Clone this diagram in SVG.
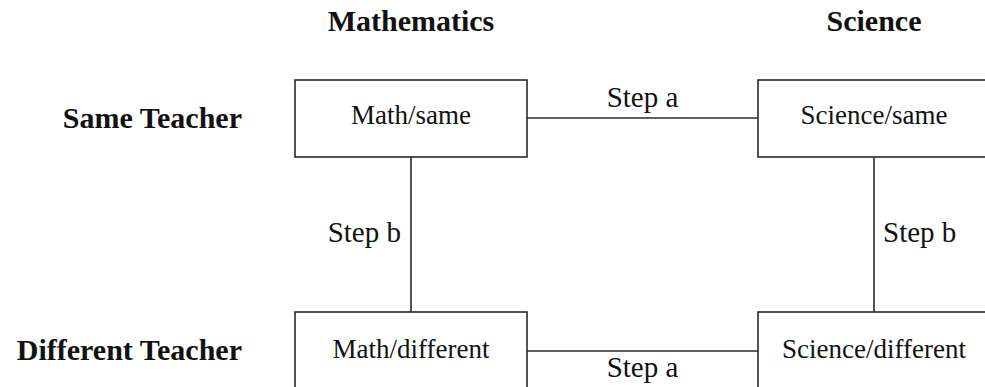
<svg xmlns="http://www.w3.org/2000/svg" width="985" height="387" viewBox="0 0 985 387">
<style>
.box{fill:#fff;stroke:#2a2a2a;stroke-width:1.6}
.edge{stroke:#2a2a2a;stroke-width:1.6;fill:none}
.nt{font-family:'Liberation Serif',serif;font-size:27px;fill:#111;text-anchor:middle}
.st{font-family:'Liberation Serif',serif;font-size:29px;fill:#111}
.hd{font-family:'Liberation Serif',serif;font-size:30px;font-weight:bold;fill:#111}
</style>
<rect width="985" height="387" fill="#fff"/>
<g id="headers">
<text class="hd" x="411" y="31" text-anchor="middle">Mathematics</text>
<text class="hd" x="874" y="31" text-anchor="middle">Science</text>
<text class="hd" x="242" y="128" text-anchor="end">Same Teacher</text>
<text class="hd" x="242" y="360" text-anchor="end">Different Teacher</text>
</g>
<g id="connectors">
<line class="edge" x1="527" y1="118" x2="758" y2="118"/>
<line class="edge" x1="527" y1="351" x2="758" y2="351"/>
<line class="edge" x1="411" y1="157" x2="411" y2="312"/>
<line class="edge" x1="874" y1="157" x2="874" y2="312"/>
<text class="st" x="642.5" y="107" text-anchor="middle">Step a</text>
<text class="st" x="642.5" y="377" text-anchor="middle">Step a</text>
<text class="st" x="401" y="242" text-anchor="end">Step b</text>
<text class="st" x="883" y="242">Step b</text>
</g>
<g id="math-same">
<rect class="box" x="295" y="80" width="232" height="77"/>
<text class="nt" x="411" y="124">Math/same</text>
</g>
<g id="science-same">
<rect class="box" x="758" y="80" width="232" height="77"/>
<text class="nt" x="874" y="124">Science/same</text>
</g>
<g id="math-different">
<rect class="box" x="295" y="312" width="232" height="77"/>
<text class="nt" x="411" y="358">Math/different</text>
</g>
<g id="science-different">
<rect class="box" x="758" y="312" width="232" height="77"/>
<text class="nt" x="874" y="358">Science/different</text>
</g>
</svg>
